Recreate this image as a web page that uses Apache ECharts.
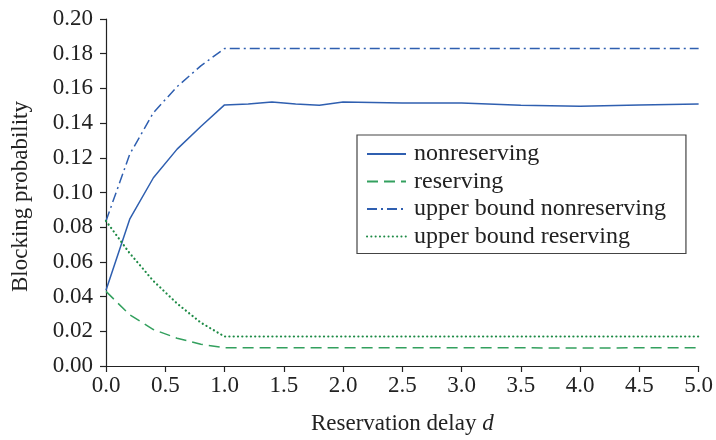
<!DOCTYPE html>
<html><head><meta charset="utf-8">
<script src="https://cdn.jsdelivr.net/npm/echarts@6/dist/echarts.min.js"></script>
<style>html,body{margin:0;padding:0;background:#fff}#c{width:716px;height:440px}</style>
</head><body><div id="c"></div>
<script>
const delays = [0, 0.2, 0.4, 0.6, 0.8, 1.0, 1.2, 1.4, 1.6, 1.8, 2.0, 2.5, 3.0, 3.5, 4.0, 4.5, 5.0];
const nonreserving = [0.0436, 0.0846, 0.1085, 0.125, 0.138, 0.1505, 0.151, 0.1522, 0.151, 0.1503, 0.1522, 0.1516, 0.1516, 0.1503, 0.1497, 0.1505, 0.151];
const reserving = [0.043, 0.0295, 0.021, 0.016, 0.0125, 0.0105, 0.0105, 0.0105, 0.0105, 0.0105, 0.0105, 0.0105, 0.0105, 0.0105, 0.0103, 0.0105, 0.0105];
const upperNonreserving = [0.0836, 0.122, 0.146, 0.161, 0.173, 0.183, 0.183, 0.183, 0.183, 0.183, 0.183, 0.183, 0.183, 0.183, 0.183, 0.183, 0.183];
const upperReserving = [0.0836, 0.065, 0.049, 0.036, 0.025, 0.017, 0.017, 0.017, 0.017, 0.017, 0.017, 0.017, 0.017, 0.017, 0.017, 0.017, 0.017];
const seriesNames = ['nonreserving', 'reserving', 'upper bound nonreserving', 'upper bound reserving'];

const FONT = '"Liberation Serif", "DejaVu Serif", serif';
const FS = 23;
const BLUE = '#2f5fb0';
const GREEN = '#33a05e';
const GREEN_DOT = '#1d8a45';
const pair = arr => delays.map((d, i) => [d, arr[i]]);

const chart = echarts.init(document.getElementById('c'), null, {renderer: 'canvas'});
const axisCommon = {
  axisLine: {show: true, lineStyle: {color: '#222', width: 1.2}},
  axisTick: {show: true, inside: false, length: 6, lineStyle: {color: '#222', width: 1.2}},
  splitLine: {show: false}
};
chart.setOption({
  animation: false,
  backgroundColor: '#fff',
  grid: {left: 106, right: 13, top: 19, bottom: 72},
  xAxis: Object.assign({}, axisCommon, {
    type: 'value', min: 0, max: 5, interval: 0.5,
    name: 'Reservation delay {i|d}', nameLocation: 'middle', nameGap: 46,
    nameTextStyle: {color: '#222', fontFamily: FONT, fontSize: FS,
      rich: {i: {fontStyle: 'italic', fontFamily: FONT, fontSize: FS, color: '#222'}}},
    axisLabel: {color: '#222', fontFamily: FONT, fontSize: FS, margin: 8,
      formatter: v => v.toFixed(1)}
  }),
  yAxis: Object.assign({}, axisCommon, {
    type: 'value', min: 0, max: 0.2, interval: 0.02,
    name: 'Blocking probability', nameLocation: 'middle', nameGap: 74,
    nameTextStyle: {color: '#222', fontFamily: FONT, fontSize: FS, padding: [0, 8, 0, 0]},
    axisLabel: {color: '#222', fontFamily: FONT, fontSize: FS, margin: 13,
      formatter: v => v.toFixed(2)}
  }),
  legend: {
    orient: 'vertical', left: 357, top: 135,
    data: seriesNames,
    itemWidth: 39, itemHeight: 12, itemGap: 3.5,
    padding: [7, 20, 5, 9],
    borderColor: '#444', borderWidth: 1.2,
    itemStyle: {opacity: 0},
    textStyle: {color: '#222', fontFamily: FONT, fontSize: 24, padding: [0, 0, 0, 3]}
  },
  series: [
    {name: seriesNames[0], type: 'line', data: pair(nonreserving), showSymbol: false, symbol: 'none',
      lineStyle: {color: BLUE, width: 1.5, type: 'solid'}, itemStyle: {color: BLUE}},
    {name: seriesNames[1], type: 'line', data: pair(reserving), showSymbol: false, symbol: 'none',
      lineStyle: {color: GREEN, width: 1.5, type: [11, 6]}, itemStyle: {color: GREEN}},
    {name: seriesNames[2], type: 'line', data: pair(upperNonreserving), showSymbol: false, symbol: 'none',
      lineStyle: {color: BLUE, width: 1.5, type: [10, 4, 2, 4]}, itemStyle: {color: BLUE}},
    {name: seriesNames[3], type: 'line', data: pair(upperReserving), showSymbol: false, symbol: 'none',
      lineStyle: {color: GREEN_DOT, width: 2.2, type: [0.1, 4.2], cap: 'round'}, itemStyle: {color: GREEN_DOT}}
  ]
});
</script></body></html>
